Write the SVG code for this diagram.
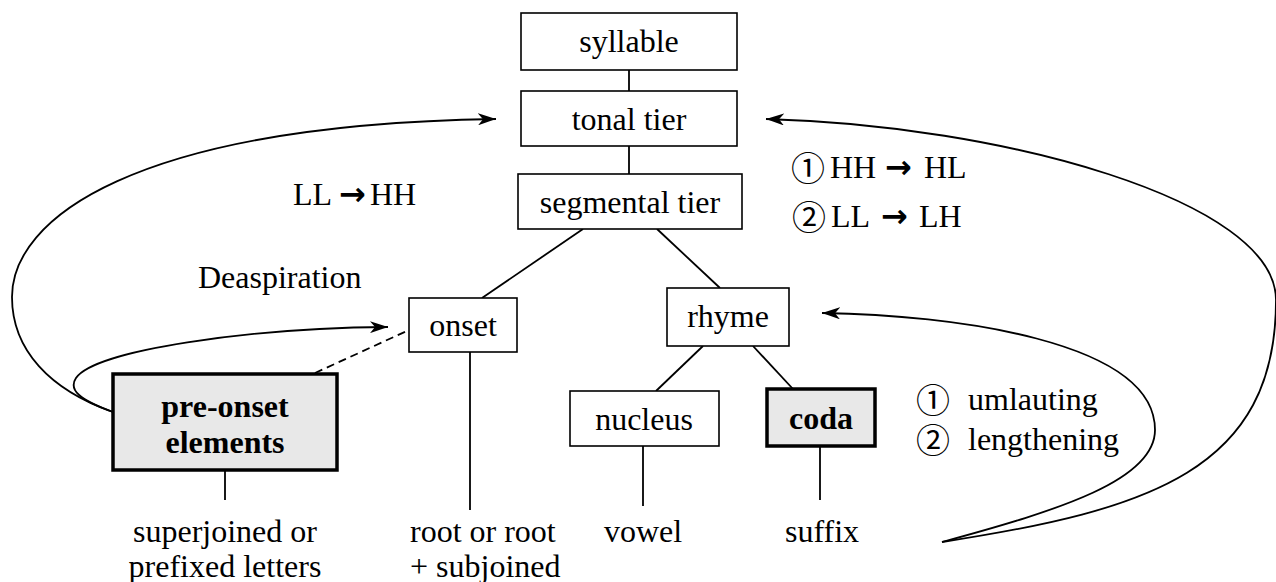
<svg xmlns="http://www.w3.org/2000/svg" width="1276" height="582" viewBox="0 0 1276 582">
  <style>
    .box { fill: #ffffff; stroke: #000000; stroke-width: 1.6; }
    .hl { fill: #e8e8e8; stroke: #000000; stroke-width: 3.5; }
    .lbl { font-family: "Liberation Serif", "Times New Roman", serif; font-size: 32px; fill: #000000; }
    .bold { font-weight: bold; }
    .mid { text-anchor: middle; }
    .edge { fill: none; stroke: #000000; stroke-width: 1.8; }
    .dash { stroke-dasharray: 8 5; }
    .num { font-family: "Noto Sans CJK SC", "DejaVu Sans", sans-serif; font-size: 34px; fill: #000000; }
    .arr { font-family: "Noto Sans", "DejaVu Sans", sans-serif; font-weight: bold; font-size: 32px; }
  </style>
  <defs>
    <marker id="head" markerUnits="userSpaceOnUse" markerWidth="20" markerHeight="12" refX="18" refY="6" orient="auto">
      <path d="M0,0 L18,6 L0,12 L5,6 z" fill="#000000"/>
    </marker>
  </defs>

  <g id="connectors">
    <line class="edge" x1="629" y1="70" x2="629" y2="91"/>
    <line class="edge" x1="629" y1="146" x2="629" y2="174"/>
    <line class="edge" x1="583" y1="229" x2="482" y2="298"/>
    <line class="edge" x1="657" y1="229" x2="720" y2="288"/>
    <line class="edge" x1="703" y1="346" x2="656" y2="391"/>
    <line class="edge" x1="753" y1="346" x2="793" y2="389"/>
    <line class="edge" x1="225" y1="470" x2="225" y2="500"/>
    <line class="edge" x1="470" y1="352" x2="470" y2="510"/>
    <line class="edge" x1="643" y1="446" x2="643" y2="506"/>
    <line class="edge" x1="820" y1="446" x2="820" y2="500"/>
    <line class="edge dash" x1="315" y1="373" x2="409" y2="330"/>
    <!-- pre-onset elements to tonal tier -->
    <path class="edge" marker-end="url(#head)" d="M113,412 C50,390 12,350 12,297 C12,220 130,125 496,119"/>
    <!-- pre-onset elements to onset -->
    <path class="edge" marker-end="url(#head)" d="M113,412 C80,400 68,390 76,378 C95,350 250,328 388,327"/>
    <!-- suffix to tonal tier -->
    <path class="edge" marker-end="url(#head)" d="M942,542 C1150,510 1276,470 1276,300 C1276,200 1000,125 766,119"/>
    <!-- suffix to rhyme -->
    <path class="edge" marker-end="url(#head)" d="M942,542 C1060,510 1155,480 1155,430 C1155,340 950,315 822,313"/>
  </g>

  <g id="syllable">
    <rect class="box" x="521" y="13" width="216" height="57"/>
    <text class="lbl mid" x="629" y="52">syllable</text>
  </g>
  <g id="tonal-tier">
    <rect class="box" x="521" y="91" width="216" height="55"/>
    <text class="lbl mid" x="629" y="130">tonal tier</text>
  </g>
  <g id="segmental-tier">
    <rect class="box" x="518" y="174" width="224" height="55"/>
    <text class="lbl mid" x="630" y="213">segmental tier</text>
  </g>
  <g id="onset">
    <rect class="box" x="409" y="298" width="108" height="54"/>
    <text class="lbl mid" x="463" y="336">onset</text>
  </g>
  <g id="rhyme">
    <rect class="box" x="667" y="288" width="122" height="58"/>
    <text class="lbl mid" x="728" y="327">rhyme</text>
  </g>
  <g id="nucleus">
    <rect class="box" x="570" y="391" width="149" height="55"/>
    <text class="lbl mid" x="644" y="430">nucleus</text>
  </g>
  <g id="coda">
    <rect class="hl" x="767" y="389" width="108" height="57"/>
    <text class="lbl bold mid" x="821" y="429">coda</text>
  </g>
  <g id="pre-onset">
    <rect class="hl" x="113" y="374" width="224" height="96"/>
    <text class="lbl bold mid" x="225" y="417">pre-onset</text>
    <text class="lbl bold mid" x="225" y="453">elements</text>
  </g>

  <g id="leaves">
    <text class="lbl mid" x="225" y="542">superjoined or</text>
    <text class="lbl mid" x="225" y="577">prefixed letters</text>
    <text class="lbl" x="410" y="542">root or root</text>
    <text class="lbl" x="410" y="577">+ subjoined</text>
    <text class="lbl mid" x="643" y="542">vowel</text>
    <text class="lbl mid" x="822" y="542">suffix</text>
  </g>

  <g id="rules">
    <text class="lbl" x="293" y="205">LL<tspan class="arr" x="339">→</tspan><tspan x="370">HH</tspan></text>
    <text class="lbl" x="198" y="288">Deaspiration</text>
    <text class="num" x="791" y="181">①</text>
    <text class="lbl" x="830" y="178">HH<tspan class="arr" x="885">→</tspan><tspan x="924">HL</tspan></text>
    <text class="num" x="792" y="230">②</text>
    <text class="lbl" x="831" y="227">LL<tspan class="arr" x="881">→</tspan><tspan x="919">LH</tspan></text>
    <text class="num" x="916" y="413">①</text>
    <text class="lbl" x="968" y="410">umlauting</text>
    <text class="num" x="916" y="453">②</text>
    <text class="lbl" x="968" y="450">lengthening</text>
  </g>
</svg>
